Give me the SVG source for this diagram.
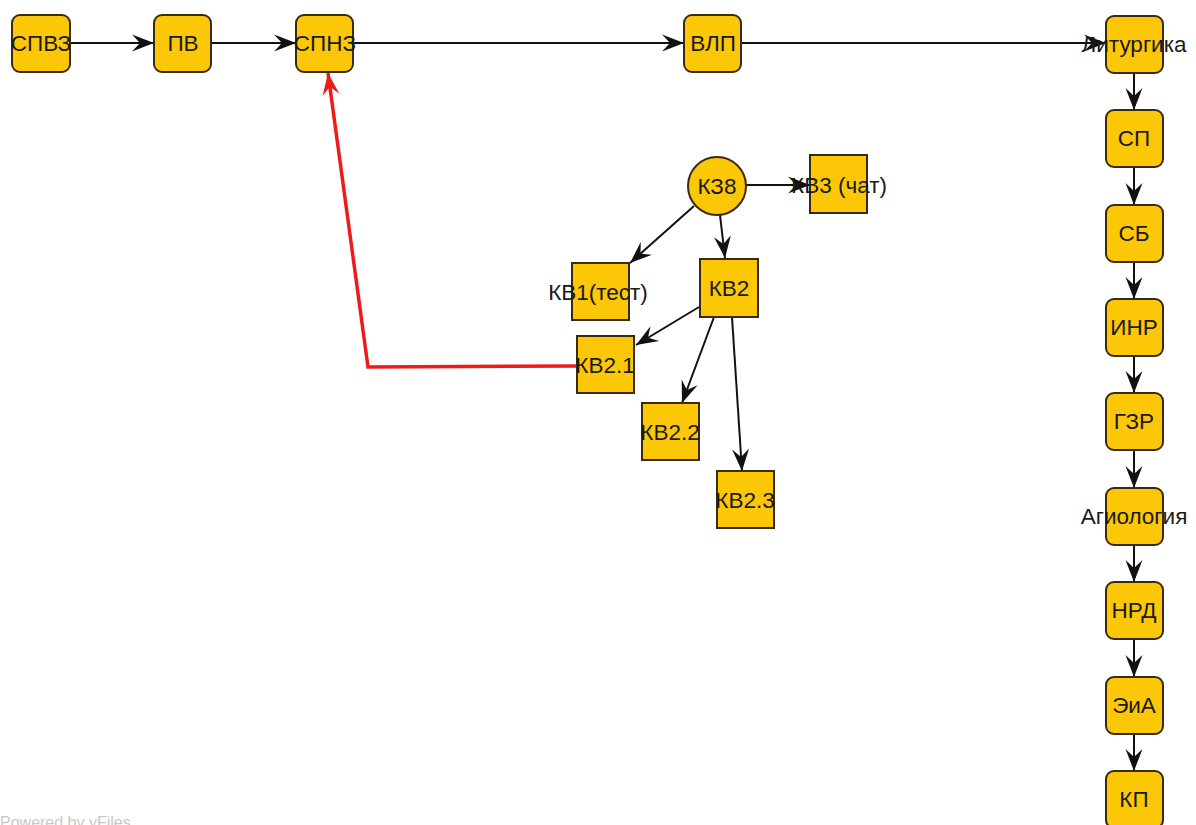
<svg xmlns="http://www.w3.org/2000/svg" width="1196" height="825" viewBox="0 0 1196 825">
<style>
.n{fill:#FCC707;stroke:#3a2a10;stroke-width:2}
.t{font-family:"Liberation Sans",Arial,sans-serif;font-size:22.5px;fill:#1a1a1a;text-anchor:middle}
.e{fill:none;stroke:#111;stroke-width:2}
.r{fill:none;stroke:#EE1B1B;stroke-width:3.5}
.pw{font-family:"Liberation Sans",Arial,sans-serif;font-size:16px;fill:#c8c8c8}
</style>
<defs>
<marker id="a" viewBox="-23 -10 24 20" refX="0" refY="0" markerWidth="24" markerHeight="20" markerUnits="userSpaceOnUse" orient="auto">
<path d="M0,0 L-22,-8.5 L-14,0 L-22,8.5 Z" fill="#111"/>
</marker>
<marker id="ar" viewBox="-23 -10 24 20" refX="0" refY="0" markerWidth="24" markerHeight="20" markerUnits="userSpaceOnUse" orient="auto">
<path d="M0,0 L-22,-8.5 L-14,0 L-22,8.5 Z" fill="#EE1B1B"/>
</marker>
</defs>
<rect width="1196" height="825" fill="#fff"/>
<g id="edges">
<line class="e" x1="70" y1="43" x2="154" y2="43" marker-end="url(#a)"/>
<line class="e" x1="211" y1="43" x2="296" y2="43" marker-end="url(#a)"/>
<line class="e" x1="353" y1="43" x2="684" y2="43" marker-end="url(#a)"/>
<line class="e" x1="741" y1="43" x2="1106" y2="43" marker-end="url(#a)"/>
<line class="e" x1="1134" y1="73" x2="1134" y2="110" marker-end="url(#a)"/>
<line class="e" x1="1134" y1="167" x2="1134" y2="205" marker-end="url(#a)"/>
<line class="e" x1="1134" y1="262" x2="1134" y2="299" marker-end="url(#a)"/>
<line class="e" x1="1134" y1="356" x2="1134" y2="393" marker-end="url(#a)"/>
<line class="e" x1="1134" y1="450" x2="1134" y2="488" marker-end="url(#a)"/>
<line class="e" x1="1134" y1="545" x2="1134" y2="582" marker-end="url(#a)"/>
<line class="e" x1="1134" y1="639" x2="1134" y2="677" marker-end="url(#a)"/>
<line class="e" x1="1134" y1="734" x2="1134" y2="771" marker-end="url(#a)"/>
<line class="e" x1="746" y1="185" x2="810" y2="185" marker-end="url(#a)"/>
<line class="e" x1="694" y1="206" x2="630" y2="263" marker-end="url(#a)"/>
<line class="e" x1="720" y1="215" x2="725" y2="258" marker-end="url(#a)"/>
<line class="e" x1="699" y1="307" x2="636" y2="345" marker-end="url(#a)"/>
<line class="e" x1="714" y1="317" x2="682" y2="403" marker-end="url(#a)"/>
<line class="e" x1="732" y1="317" x2="742" y2="471" marker-end="url(#a)"/>
<polyline class="r" points="577,366 368,367 328,73" marker-end="url(#ar)"/>
</g>
<g id="n-spvz"><rect class="n" x="12" y="15" width="58" height="57" rx="8"/><text class="t" x="41" y="51">СПВЗ</text></g>
<g id="n-pv"><rect class="n" x="154" y="15" width="57" height="57" rx="8"/><text class="t" x="183" y="51">ПВ</text></g>
<g id="n-spnz"><rect class="n" x="296" y="15" width="57" height="57" rx="8"/><text class="t" x="325" y="51">СПНЗ</text></g>
<g id="n-vlp"><rect class="n" x="684" y="15" width="57" height="57" rx="8"/><text class="t" x="713" y="51">ВЛП</text></g>
<g id="n-lit"><rect class="n" x="1106" y="16" width="57" height="57" rx="8"/><text class="t" x="1134" y="52">Литургика</text></g>
<g id="n-sp"><rect class="n" x="1106" y="110" width="57" height="57" rx="8"/><text class="t" x="1134" y="146">СП</text></g>
<g id="n-sb"><rect class="n" x="1106" y="205" width="57" height="57" rx="8"/><text class="t" x="1134" y="241">СБ</text></g>
<g id="n-inr"><rect class="n" x="1106" y="299" width="57" height="57" rx="8"/><text class="t" x="1134" y="335">ИНР</text></g>
<g id="n-gzr"><rect class="n" x="1106" y="393" width="57" height="57" rx="8"/><text class="t" x="1134" y="429">ГЗР</text></g>
<g id="n-agio"><rect class="n" x="1106" y="488" width="57" height="57" rx="8"/><text class="t" x="1134" y="524">Агиология</text></g>
<g id="n-nrd"><rect class="n" x="1106" y="582" width="57" height="57" rx="8"/><text class="t" x="1134" y="618">НРД</text></g>
<g id="n-eia"><rect class="n" x="1106" y="677" width="57" height="57" rx="8"/><text class="t" x="1134" y="713">ЭиА</text></g>
<g id="n-kp"><rect class="n" x="1106" y="771" width="57" height="57" rx="8"/><text class="t" x="1134" y="807">КП</text></g>
<g id="n-kz8"><circle class="n" cx="717" cy="186" r="29"/><text class="t" x="717" y="194">КЗ8</text></g>
<g id="n-kv3"><rect class="n" x="810" y="155" width="57" height="58"/><text class="t" x="839" y="193">КВ3 (чат)</text></g>
<g id="n-kv1"><rect class="n" x="572" y="263" width="57" height="57"/><text class="t" x="598" y="300">КВ1(тест)</text></g>
<g id="n-kv2"><rect class="n" x="700" y="259" width="58" height="58"/><text class="t" x="729" y="296">КВ2</text></g>
<g id="n-kv21"><rect class="n" x="577" y="336" width="57" height="57"/><text class="t" x="605" y="373">КВ2.1</text></g>
<g id="n-kv22"><rect class="n" x="642" y="403" width="57" height="57"/><text class="t" x="670" y="440">КВ2.2</text></g>
<g id="n-kv23"><rect class="n" x="717" y="471" width="57" height="57"/><text class="t" x="745" y="508">КВ2.3</text></g>
<text class="pw" x="0" y="828">Powered by yFiles</text>
</svg>
